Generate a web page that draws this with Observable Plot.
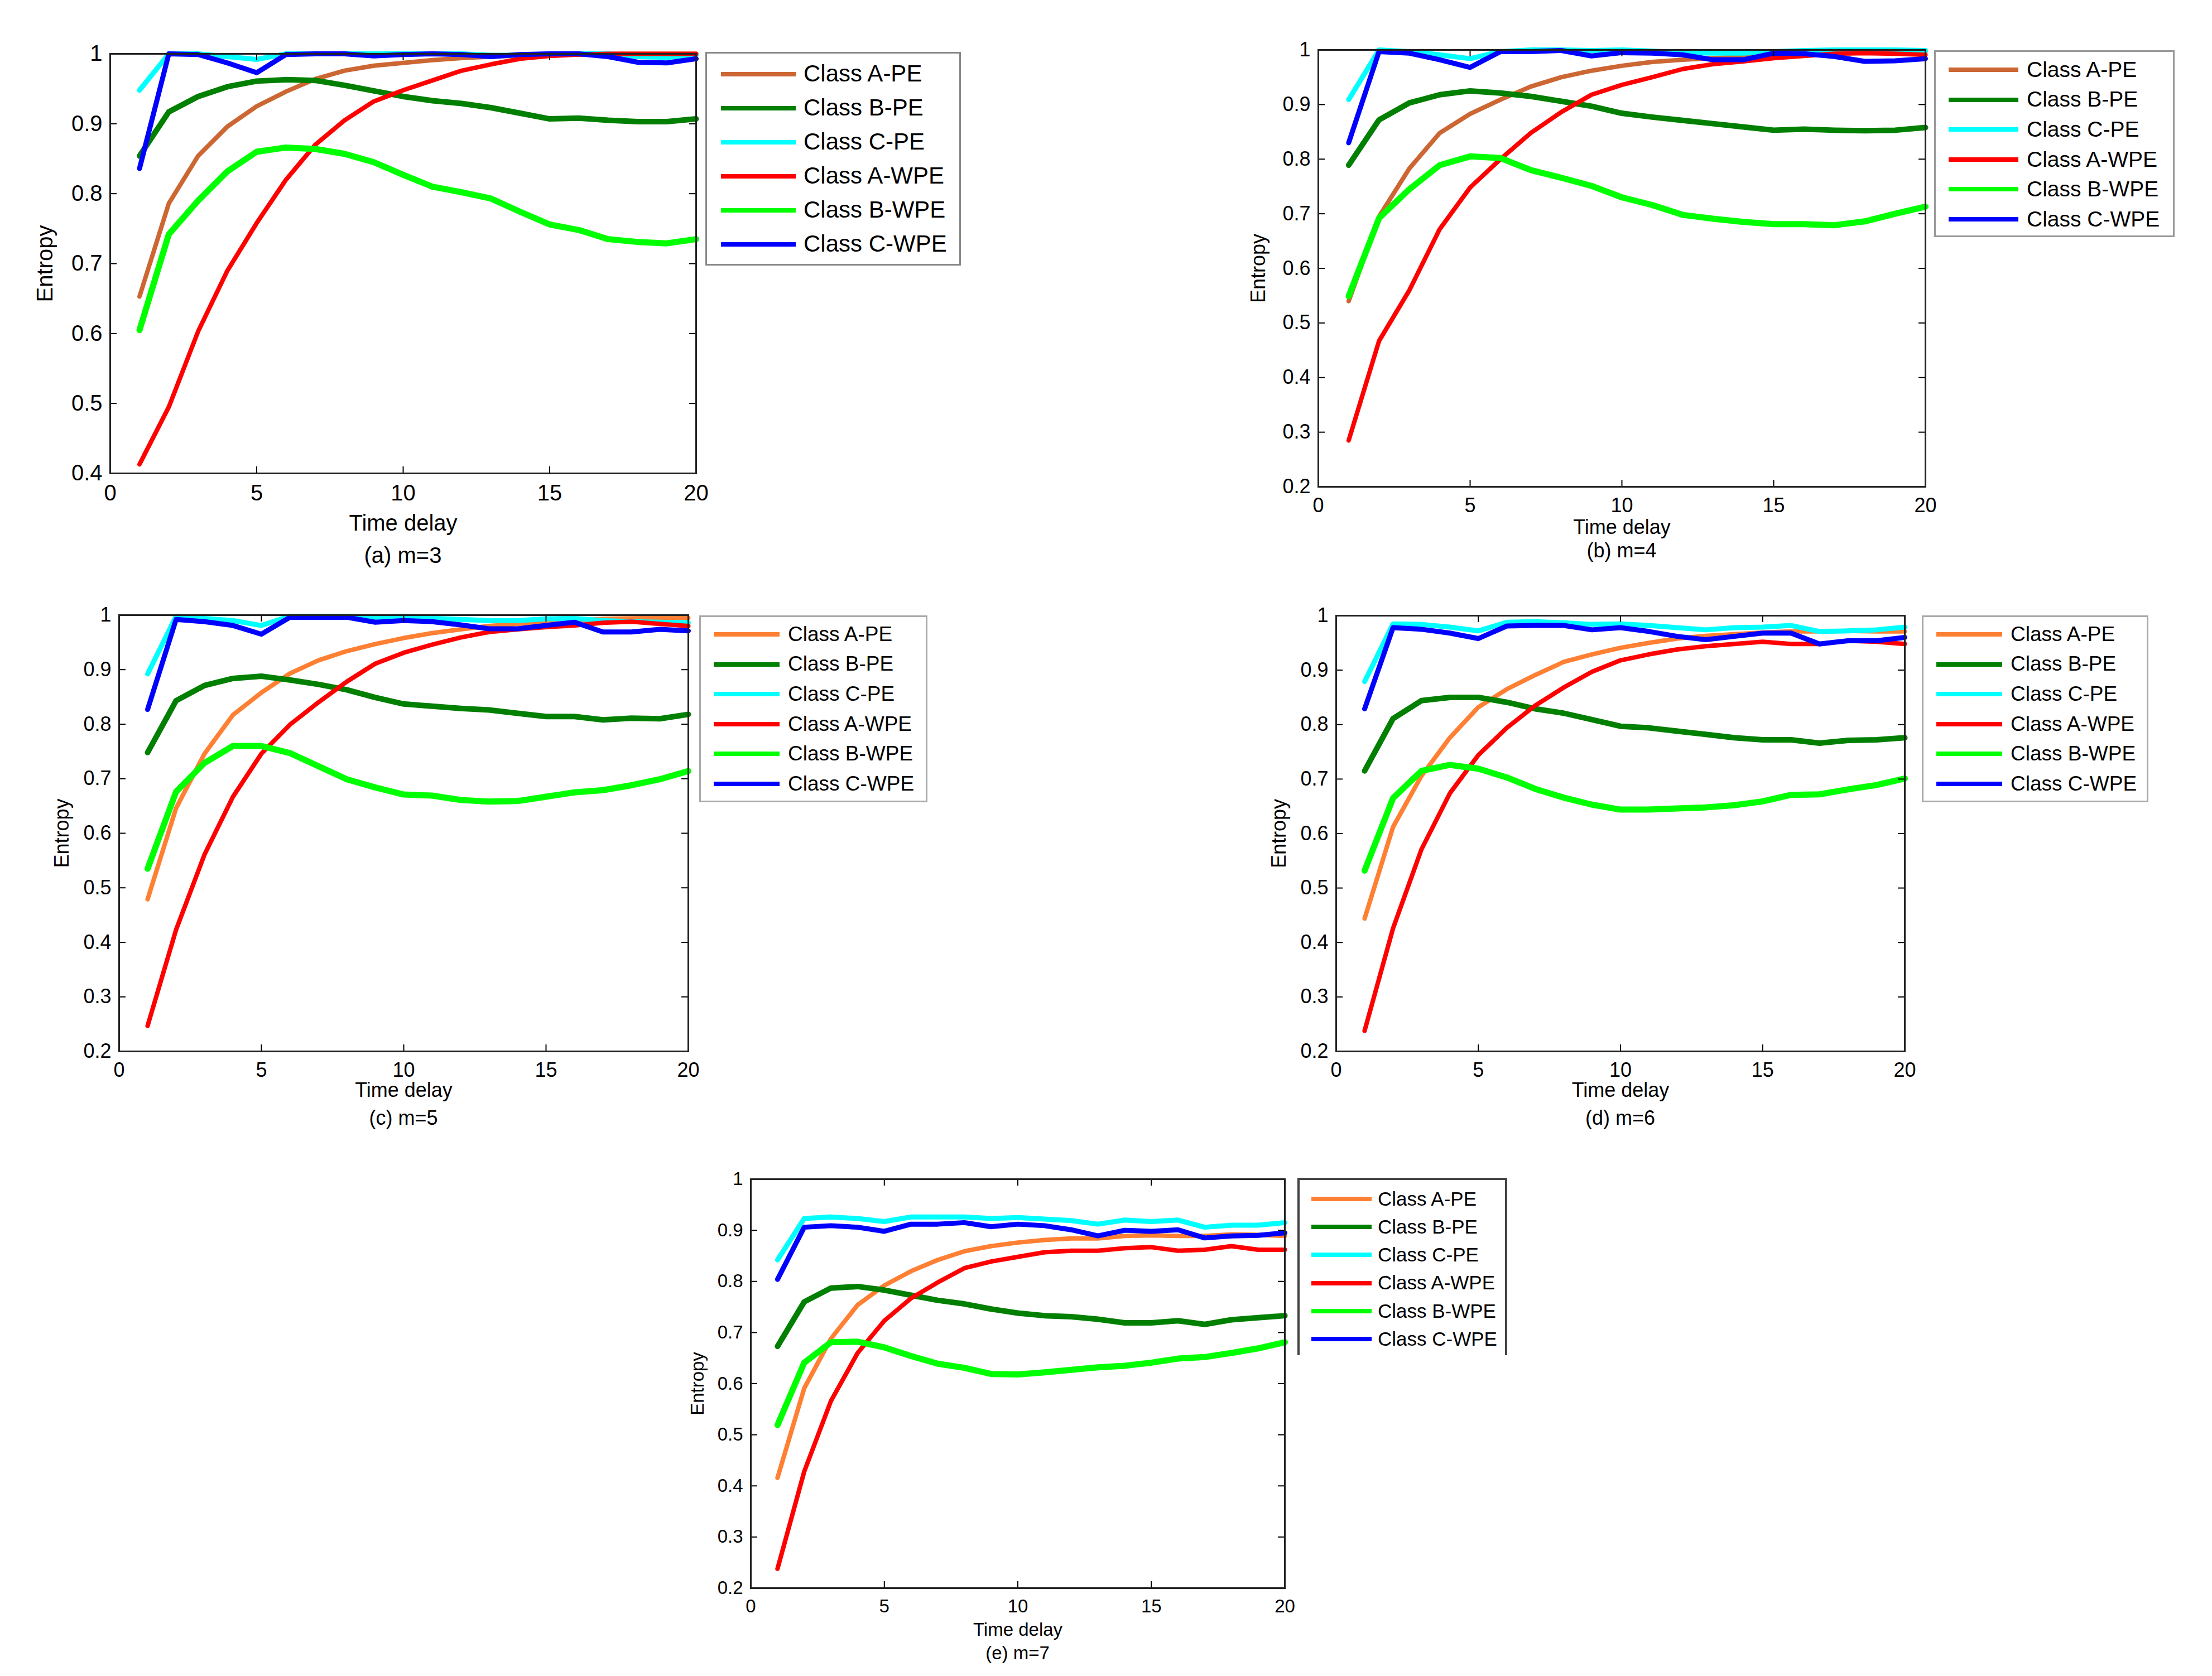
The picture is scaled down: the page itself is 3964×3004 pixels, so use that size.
<!DOCTYPE html>
<html>
<head>
<meta charset="utf-8">
<script src="https://cdn.jsdelivr.net/npm/d3@7"></script>
<script src="https://cdn.jsdelivr.net/npm/@observablehq/plot@0.6"></script>
<style>
  body { margin: 0; background: #fff; }
  #page { position: relative; width: 3964px; height: 3004px; background: #fff; overflow: hidden;
          font-family: "Liberation Sans", Arial, sans-serif; color: #000; }
  .panel { position: absolute; }
  .legend { position: absolute; box-sizing: border-box; background: #fff; }
  .sw { position: absolute; }
  .lab { position: absolute; white-space: nowrap; line-height: 1; }
  .cap { position: absolute; text-align: center; white-space: nowrap; line-height: 1; }
</style>
</head>
<body>
<div id="page"></div>
<script>
const delay = d3.range(1, 21);
const names = ["Class A-PE", "Class B-PE", "Class C-PE", "Class A-WPE", "Class B-WPE", "Class C-WPE"];
const xTicks = [0, 5, 10, 15, 20];

// (a) m=3
const m3_APE  = [0.653,0.786,0.854,0.896,0.925,0.946,0.964,0.976,0.983,0.987,0.991,0.994,0.996,0.998,0.999,0.999,1.0,1.0,1.0,1.0];
const m3_BPE  = [0.854,0.917,0.939,0.953,0.961,0.963,0.962,0.955,0.947,0.939,0.933,0.929,0.923,0.915,0.907,0.908,0.905,0.903,0.903,0.907];
const m3_CPE  = [0.948,1.0,1.0,0.996,0.992,1.0,1.0,1.0,1.0,1.0,1.0,1.0,0.998,0.998,1.0,1.0,1.0,0.996,0.995,0.998];
const m3_AWPE = [0.413,0.495,0.603,0.690,0.758,0.820,0.870,0.905,0.932,0.948,0.962,0.976,0.985,0.993,0.997,0.999,1.0,1.0,1.0,1.0];
const m3_BWPE = [0.605,0.742,0.790,0.832,0.860,0.866,0.864,0.857,0.845,0.827,0.810,0.802,0.793,0.774,0.756,0.748,0.735,0.731,0.729,0.735];
const m3_CWPE = [0.836,1.0,0.999,0.987,0.973,0.999,1.0,1.0,0.997,0.999,1.0,0.999,0.996,0.999,1.0,1.0,0.996,0.988,0.987,0.993];

// (b) m=4
const m4_APE  = [0.540,0.695,0.783,0.848,0.883,0.909,0.933,0.950,0.962,0.971,0.978,0.982,0.985,0.988,0.991,0.993,0.995,0.996,0.996,0.997];
const m4_BPE  = [0.789,0.872,0.903,0.918,0.925,0.921,0.915,0.906,0.897,0.884,0.877,0.871,0.865,0.859,0.853,0.855,0.853,0.852,0.853,0.858];
const m4_CPE  = [0.909,1.0,0.997,0.991,0.984,0.997,1.0,1.0,0.999,1.0,0.998,0.995,0.994,0.994,0.997,0.999,1.0,1.0,1.0,0.999];
const m4_AWPE = [0.285,0.467,0.560,0.672,0.748,0.800,0.848,0.886,0.918,0.936,0.950,0.965,0.974,0.979,0.985,0.989,0.993,0.994,0.993,0.991];
const m4_BWPE = [0.549,0.692,0.745,0.789,0.805,0.802,0.780,0.766,0.751,0.730,0.716,0.698,0.691,0.685,0.681,0.681,0.679,0.686,0.700,0.713];
const m4_CWPE = [0.830,0.997,0.994,0.982,0.968,0.997,0.997,0.999,0.989,0.995,0.994,0.991,0.982,0.982,0.994,0.993,0.988,0.979,0.980,0.984];

// (c) m=5
const m5_APE  = [0.479,0.646,0.746,0.817,0.858,0.893,0.917,0.934,0.947,0.958,0.967,0.974,0.980,0.984,0.988,0.990,0.993,0.994,0.995,0.995];
const m5_BPE  = [0.748,0.843,0.871,0.884,0.888,0.881,0.873,0.863,0.849,0.837,0.833,0.829,0.826,0.820,0.814,0.814,0.808,0.811,0.810,0.818];
const m5_CPE  = [0.892,0.998,0.994,0.990,0.981,0.998,0.998,0.998,0.996,0.998,0.994,0.992,0.990,0.990,0.993,0.994,0.990,0.988,0.987,0.986];
const m5_AWPE = [0.247,0.423,0.561,0.667,0.746,0.799,0.840,0.878,0.911,0.931,0.946,0.959,0.969,0.974,0.978,0.981,0.986,0.988,0.984,0.980];
const m5_BWPE = [0.535,0.676,0.729,0.760,0.760,0.747,0.723,0.699,0.684,0.671,0.669,0.661,0.658,0.659,0.667,0.675,0.679,0.688,0.699,0.714];
const m5_CWPE = [0.827,0.992,0.988,0.981,0.965,0.996,0.996,0.996,0.987,0.990,0.988,0.982,0.975,0.975,0.981,0.987,0.969,0.969,0.974,0.971];

// (d) m=6
const m6_APE  = [0.444,0.612,0.706,0.776,0.832,0.865,0.891,0.915,0.929,0.941,0.950,0.958,0.963,0.966,0.969,0.971,0.971,0.972,0.971,0.971];
const m6_BPE  = [0.715,0.811,0.844,0.850,0.850,0.841,0.829,0.821,0.809,0.797,0.794,0.788,0.782,0.776,0.772,0.772,0.766,0.771,0.772,0.776];
const m6_CPE  = [0.879,0.985,0.984,0.979,0.972,0.988,0.989,0.987,0.984,0.985,0.982,0.978,0.974,0.978,0.979,0.982,0.971,0.972,0.974,0.979];
const m6_AWPE = [0.238,0.426,0.571,0.674,0.744,0.794,0.835,0.868,0.897,0.918,0.929,0.938,0.944,0.948,0.952,0.948,0.948,0.954,0.952,0.948];
const m6_BWPE = [0.532,0.665,0.715,0.726,0.719,0.703,0.682,0.666,0.653,0.644,0.644,0.646,0.648,0.652,0.659,0.671,0.672,0.681,0.689,0.701];
const m6_CWPE = [0.829,0.978,0.975,0.968,0.958,0.981,0.982,0.982,0.974,0.978,0.971,0.962,0.956,0.962,0.968,0.968,0.948,0.954,0.954,0.960];

// (e) m=7
const m7_APE  = [0.416,0.591,0.688,0.754,0.792,0.820,0.842,0.859,0.869,0.876,0.881,0.884,0.884,0.889,0.890,0.889,0.889,0.892,0.891,0.889];
const m7_BPE  = [0.673,0.760,0.787,0.790,0.783,0.773,0.763,0.756,0.746,0.738,0.733,0.731,0.726,0.719,0.719,0.723,0.716,0.725,0.729,0.733];
const m7_CPE  = [0.842,0.923,0.926,0.923,0.917,0.926,0.926,0.926,0.923,0.925,0.922,0.919,0.912,0.920,0.917,0.920,0.906,0.910,0.910,0.915];
const m7_AWPE = [0.238,0.428,0.566,0.660,0.723,0.767,0.798,0.826,0.839,0.848,0.857,0.860,0.860,0.865,0.867,0.860,0.862,0.869,0.862,0.862];
const m7_BWPE = [0.519,0.641,0.681,0.682,0.671,0.654,0.639,0.631,0.619,0.618,0.622,0.627,0.632,0.635,0.641,0.649,0.652,0.660,0.669,0.681];
const m7_CWPE = [0.804,0.906,0.909,0.906,0.898,0.912,0.912,0.915,0.907,0.912,0.909,0.901,0.889,0.900,0.898,0.901,0.885,0.889,0.890,0.895];

const colorsBrown  = ["#cc6633", "#007f00", "#00ffff", "#ff0000", "#00ff00", "#0000ff"];
const colorsOrange = ["#ff7f33", "#007f00", "#00ffff", "#ff0000", "#00ff00", "#0000ff"];
const widths = [8, 10, 9, 8, 11, 9];

const panels = [
  {caption: "(a) m=3", series: [m3_APE, m3_BPE, m3_CPE, m3_AWPE, m3_BWPE, m3_CWPE], colors: colorsBrown,
   ymin: 0.4, left: 197, right: 1247, top: 96, bottom: 848, font: 40, capY: 997, xLab: 102, yLab: 132,
   legend: {left: 1264, top: 93, width: 458, height: 383, rowTop: 130, rowGap: 61, swL: 25, swW: 134, txL: 173, font: 42, border: "3px solid #888"}},
  {caption: "(b) m=4", series: [m4_APE, m4_BPE, m4_CPE, m4_AWPE, m4_BWPE, m4_CWPE], colors: colorsBrown,
   ymin: 0.2, left: 2362, right: 3450, top: 89, bottom: 872, font: 36, capY: 989, xLab: 84, yLab: 121,
   legend: {left: 3466, top: 90, width: 431, height: 335, rowTop: 122, rowGap: 53.6, swL: 23, swW: 125, txL: 163, font: 39, border: "3px solid #999"}},
  {caption: "(c) m=5", series: [m5_APE, m5_BPE, m5_CPE, m5_AWPE, m5_BWPE, m5_CWPE], colors: colorsOrange,
   ymin: 0.2, left: 213, right: 1233, top: 1102, bottom: 1884, font: 36, capY: 2006, xLab: 81, yLab: 116,
   legend: {left: 1253, top: 1103, width: 409, height: 335, rowTop: 1134, rowGap: 53.6, swL: 23, swW: 118, txL: 156, font: 37, border: "3px solid #aaa"}},
  {caption: "(d) m=6", series: [m6_APE, m6_BPE, m6_CPE, m6_AWPE, m6_BWPE, m6_CWPE], colors: colorsOrange,
   ymin: 0.2, left: 2394, right: 3413, top: 1103, bottom: 1884, font: 36, capY: 2006, xLab: 81, yLab: 116,
   legend: {left: 3444, top: 1103, width: 406, height: 335, rowTop: 1134, rowGap: 53.6, swL: 23, swW: 118, txL: 156, font: 37, border: "3px solid #aaa"}},
  {caption: "(e) m=7", series: [m7_APE, m7_BPE, m7_CPE, m7_AWPE, m7_BWPE, m7_CWPE], colors: colorsOrange,
   ymin: 0.2, left: 1345, right: 2302, top: 2113, bottom: 2846, font: 33, capY: 2964, xLab: 85, yLab: 108,
   legend: {left: 2325, top: 2111, width: 376, height: 318, rowTop: 2145, rowGap: 50.2, swL: 21, swW: 108, txL: 140, font: 35, border: "4px solid #444", noBottom: true}}
];

const page = d3.select("#page");
const mL = 180, mR = 20, mT = 20, mB = 140;

for (const p of panels) {
  const rows = [];
  p.series.forEach((vals, i) => vals.forEach((v, j) => rows.push({t: delay[j], e: v, s: names[i], w: widths[i]})));
  const W = p.right - p.left, H = p.bottom - p.top;
  const yTicks = d3.range(Math.round(p.ymin * 10), 11).map(d => d / 10);

  const chart = Plot.plot({
    width: W + mL + mR,
    height: H + mT + mB,
    marginLeft: mL, marginRight: mR, marginTop: mT, marginBottom: mB,
    x: {domain: [0, 20]},
    y: {domain: [p.ymin, 1]},
    color: {domain: names, range: p.colors},
    style: {fontFamily: '"Liberation Sans", Arial, sans-serif', fontSize: p.font + "px", color: "#000", background: "transparent", overflow: "visible"},
    marks: [
      Plot.line(rows, {x: "t", y: "e", z: "s", stroke: "s", strokeWidth: "w", strokeLinejoin: "round"}),
      // inward ticks on all four sides, like the original box axes
      Plot.tickX(xTicks, {x: d => d, insetTop: H - 12, stroke: "#000", strokeWidth: 2}),
      Plot.tickX(xTicks, {x: d => d, insetBottom: H - 12, stroke: "#000", strokeWidth: 2}),
      Plot.tickY(yTicks, {y: d => d, insetRight: W - 12, stroke: "#000", strokeWidth: 2}),
      Plot.tickY(yTicks, {y: d => d, insetLeft: W - 12, stroke: "#000", strokeWidth: 2}),
      Plot.frame({stroke: "#222", strokeWidth: 3}),
      Plot.axisX(xTicks, {tickSize: 0, tickPadding: 20, tickFormat: d => String(d),
        label: "Time delay", labelAnchor: "center", labelArrow: "none", labelOffset: p.xLab}),
      Plot.axisY(yTicks, {tickSize: 0, tickPadding: 14, tickFormat: d => String(d),
        label: "Entropy", labelAnchor: "center", labelArrow: "none", labelOffset: p.yLab})
    ]
  });

  page.append("div").attr("class", "panel")
    .style("left", (p.left - mL) + "px").style("top", (p.top - mT) + "px")
    .node().appendChild(chart);

  page.append("div").attr("class", "cap")
    .style("left", (p.left + W / 2 - 200) + "px").style("width", "400px")
    .style("top", (p.capY - p.font * 0.55) + "px").style("font-size", p.font + "px")
    .text(p.caption);

  const L = p.legend;
  const leg = page.append("div").attr("class", "legend")
    .style("left", L.left + "px").style("top", L.top + "px")
    .style("width", L.width + "px").style("height", L.height + "px")
    .style("border", L.border);
  if (L.noBottom) leg.style("border-bottom", "none");
  names.forEach((n, i) => {
    const cy = L.rowTop + i * L.rowGap - L.top;
    leg.append("div").attr("class", "sw")
      .style("left", L.swL + "px").style("width", L.swW + "px")
      .style("top", (cy - 4) + "px").style("height", "8px")
      .style("background", p.colors[i]);
    leg.append("div").attr("class", "lab")
      .style("left", L.txL + "px").style("top", (cy - L.font * 0.52) + "px")
      .style("font-size", L.font + "px")
      .text(n);
  });
}
</script>
</body>
</html>
